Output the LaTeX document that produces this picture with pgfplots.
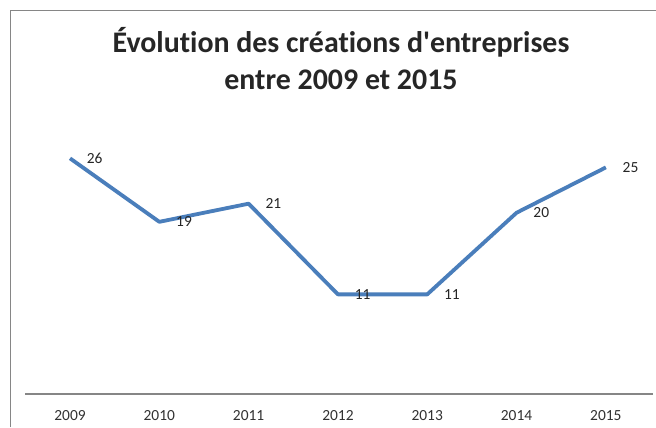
\documentclass[border=0pt]{standalone}
\usepackage{pgfplots}
\pgfplotsset{compat=1.18}
\usepackage{fontspec}
\setmainfont{Carlito}[Ligatures={TeXOff,NoCommon}]
\definecolor{excelblue}{RGB}{74,126,187}
\definecolor{bordergray}{RGB}{134,134,134}
\definecolor{textgray}{RGB}{50,50,50}
\begin{document}
\begin{tikzpicture}[x=1bp,y=1bp]
\useasboundingbox (0,0) rectangle (656,427);
\fill[white] (0,0) rectangle (656,427);
\draw[bordergray, line width=1bp] (10,0) -- (10,416) -- (656,416);
\node[anchor=base, inner sep=0pt, font=\fontsize{30}{36}\selectfont\bfseries, text=black!85] at (341,375) {Évolution des créations d'entreprises};
\node[anchor=base, inner sep=0pt, font=\fontsize{30}{36}\selectfont\bfseries, text=black!85] at (341,338) {entre 2009 et 2015};
\begin{axis}[
  at={(28.4,36.3)}, anchor=south west,
  scale only axis, width=627.8bp, height=272bp,
  xmin=-0.5, xmax=6.53, ymin=0, ymax=30,
  axis x line*=bottom, axis y line=none,
  x axis line style={-, bordergray, line width=1.4bp},
  xtick={0,1,2,3,4,5,6},
  xticklabels={2009,2010,2011,2012,2013,2014,2015},
  major tick length=0pt, ytick=\empty,
  /pgf/number format/assume math mode=true,
  xticklabel style={anchor=base, inner sep=0pt, yshift=-26bp, font=\fontsize{15.5}{18}\selectfont, text=textgray},
  clip=false,
]
\addplot[excelblue, line width=3.8bp, line join=round, mark=none,
  nodes near coords,
  every node near coord/.append style={anchor=west, xshift=15bp, inner sep=0pt, font=\fontsize{15.5}{18}\selectfont, text=black!85}]
  coordinates {(0,26) (1,19) (2,21) (3,11) (4,11) (5,20) (6,25)};
\end{axis}
\end{tikzpicture}
\end{document}
